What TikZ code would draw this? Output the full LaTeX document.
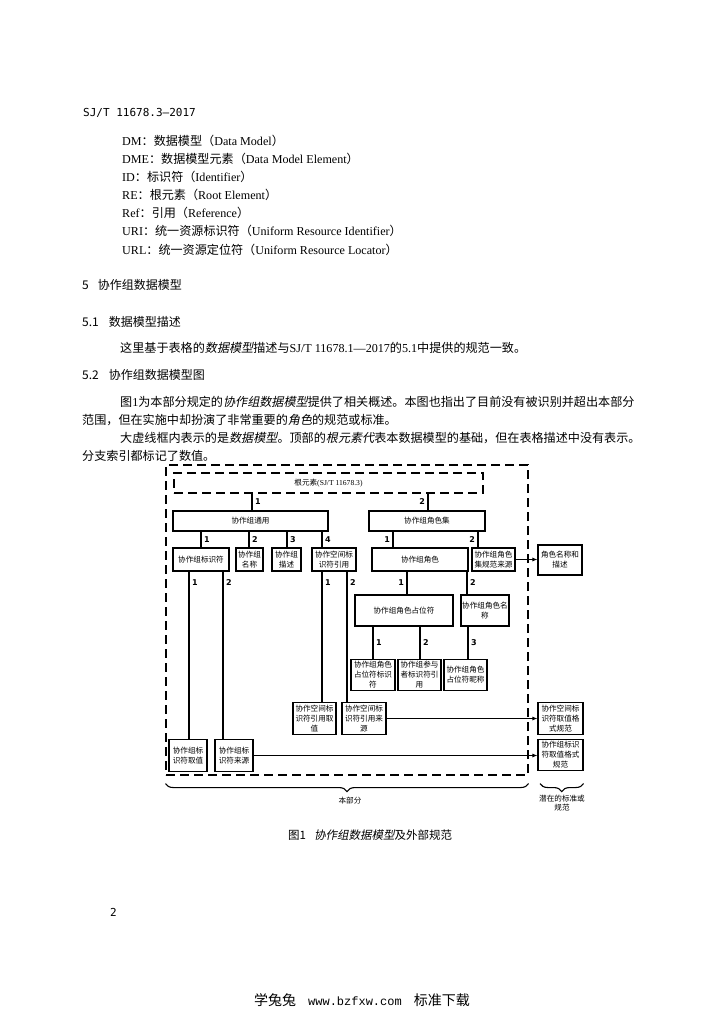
\documentclass[tikz,border=0pt]{standalone}
\usepackage{fontspec}
\setmainfont{Liberation Serif}
\newfontfamily\cjk{Noto Sans CJK SC}
\newfontfamily\cjkit{Noto Sans CJK SC}[FakeSlant=0.2]
\newfontfamily\numfont{DejaVu Sans}
\newfontfamily\sjmono{DejaVu Sans Mono}
\newfontfamily\webmono{Liberation Mono}
\newcommand\zh[1]{{\cjk #1}}
\newcommand\zhit[1]{{\cjkit #1}}
\usetikzlibrary{arrows.meta,decorations.pathreplacing}

\tikzset{
  txt/.style={anchor=base west, inner sep=0pt, font=\fontsize{12.1}{14}\selectfont},
  head/.style={anchor=base west, inner sep=0pt, font=\cjk\fontsize{12}{14}\selectfont},
  box/.style={draw, line width=1.1pt, inner sep=0pt, align=center, font=\cjk\fontsize{7.6}{10}\selectfont},
  row/.style={box, minimum height=23pt},
  cell/.style={box, minimum width=44pt, minimum height=31.5pt},
  frame/.style={draw, line width=1.1pt, dash pattern=on 9pt off 5pt, inner sep=0pt},
  link/.style={line width=1.1pt},
  numr/.style={right, inner sep=2.5pt, font=\numfont\bfseries\fontsize{8}{8}\selectfont},
  numl/.style={left, inner sep=2.5pt, font=\numfont\bfseries\fontsize{8}{8}\selectfont},
  lbl/.style={align=center, inner sep=0pt, font=\cjk\fontsize{7.6}{9.5}\selectfont},
  >={Latex[length=5pt,width=4pt]}
}

\begin{document}
\begin{tikzpicture}[x=1pt, y=-1pt]
    \useasboundingbox[fill=white] (0,0) rectangle (725,1024);

    % page text
    \node[anchor=base west, inner sep=0pt, font=\sjmono\fontsize{11}{13}\selectfont] (std) at (83,117) {SJ/T 11678.3—2017};
    \foreach \ab/\cn/\en [count=\i] in {DM/数据模型/Data Model, DME/数据模型元素/Data Model Element, ID/标识符/Identifier, RE/根元素/Root Element, Ref/引用/Reference, URI/统一资源标识符/Uniform Resource Identifier, URL/统一资源定位符/Uniform Resource Locator}
        \node[txt] (abbr\i) at (122,128+18*\i) {\ab\zh{：\cn（}\en\zh{）}};

    \node[head] (h5) at (82,289) {5\hspace{9pt}协作组数据模型};
    \node[head] (h51) at (82,326) {5.1\hspace{10pt}数据模型描述};
    \node[txt] (p0) at (120,352) {\zh{这里基于表格的}\zhit{数据模型}\zh{描述与}SJ/T 11678.1—2017\zh{的}5.1\zh{中提供的规范一致。}};
    \node[head] (h52) at (82,379) {5.2\hspace{10pt}协作组数据模型图};
    \node[txt] (p1) at (120,406) {\zh{图}1\zh{为本部分规定的}\zhit{协作组数据模型}\zh{提供了相关概述。本图也指出了目前没有被识别并超出本部分}};
    \node[txt] (p2) at (82,424) {\zh{范围，但在实施中却扮演了非常重要的}\zhit{角色}\zh{的规范或标准。}};
    \node[txt] (p3) at (120,442) {\zh{大虚线框内表示的是}\zhit{数据模型}\zh{。顶部的}\zhit{根元素代}\zh{表本数据模型的基础，但在表格描述中没有表示。}};
    \node[txt] (p4) at (82,460) {\zh{分支索引都标记了数值。}};

    % frames
    \node[frame, minimum width=362pt, minimum height=310pt] (part) at (347,620) {};
    \node[frame, minimum width=309pt, minimum height=20pt, font=\fontsize{7.6}{9}\selectfont] (root) at (328.5,483) {\zh{根元素}(SJ/T 11678.3)};

    % boxes
    \node[box, minimum width=155pt, minimum height=20pt] (gen) at (250.5,521) {协作组通用};
    \node[box, minimum width=116pt, minimum height=20pt] (rset) at (427,521) {协作组角色集};

    \node[row, minimum width=56pt] (gid) at (201,559.5) {协作组标识符};
    \node[row, minimum width=27pt] (gname) at (249.5,559.5) {协作组\\名称};
    \node[row, minimum width=29pt] (gdesc) at (286.5,559.5) {协作组\\描述};
    \node[row, minimum width=44pt] (sref) at (334,559.5) {协作空间标\\识符引用};
    \node[row, minimum width=96pt] (role) at (420,559.5) {协作组角色};
    \node[row, minimum width=43pt] (rsrc) at (493.5,559.5) {协作组角色\\集规范来源};
    \node[box, minimum width=44pt, minimum height=30pt] (rdesc) at (560,560) {角色名称和\\描述};

    \node[box, minimum width=98pt, minimum height=31pt] (ph) at (404,610.5) {协作组角色占位符};
    \node[box, minimum width=48pt, minimum height=31pt] (rname) at (485,610.5) {协作组角色名\\称};

    \node[cell] (phid) at (373,675) {协作组角色\\占位符标识\\符};
    \node[cell, minimum width=43pt] (pref) at (419.5,675) {协作组参与\\者标识符引\\用};
    \node[cell, minimum width=43pt] (nick) at (465.5,675) {协作组角色\\占位符昵称};

    \node[cell, minimum width=43pt] (sval) at (314.5,718.5) {协作空间标\\识符引用取\\值};
    \node[cell] (ssrc) at (364,718.5) {协作空间标\\识符引用来\\源};
    \node[cell, minimum width=45pt] (sfmt) at (560.5,718.5) {协作空间标\\识符取值格\\式规范};

    \node[cell, minimum width=38pt] (gval) at (188,755.5) {协作组标\\识符取值};
    \node[cell, minimum width=38pt] (gsrc) at (234,755.5) {协作组标\\识符来源};
    \node[cell, minimum width=45pt] (gfmt) at (560.5,755) {协作组标识\\符取值格式\\规范};

    % tree lines
    \draw[link] (root.south -| 252,0) -- node[numr]{1} (gen.north -| 252,0);
    \draw[link] (root.south -| 428,0) -- node[numl]{2} (rset.north -| 428,0);

    \draw[link] (gen.south -| 201,0) -- node[numr]{1} (gid.north -| 201,0);
    \draw[link] (gen.south -| 249,0) -- node[numr]{2} (gname.north -| 249,0);
    \draw[link] (gen.south -| 287,0) -- node[numr]{3} (gdesc.north -| 287,0);
    \draw[link] (gen.south -| 322,0) -- node[numr]{4} (sref.north -| 322,0);
    \draw[link] (rset.south -| 393,0) -- node[numl]{1} (role.north -| 393,0);
    \draw[link] (rset.south -| 478,0) -- node[numl]{2} (rsrc.north -| 478,0);

    \draw[link] (gid.south -| 189,0) -- node[numr, pos=0.065]{1} (gval.north -| 189,0);
    \draw[link] (gid.south -| 223,0) -- node[numr, pos=0.065]{2} (gsrc.north -| 223,0);
    \draw[link] (sref.south -| 322,0) -- node[numr, pos=0.085]{1} (sval.north -| 322,0);
    \draw[link] (sref.south -| 347,0) -- node[numr, pos=0.085]{2} (ssrc.north -| 347,0);
    \draw[link] (role.south -| 407,0) -- node[numl]{1} (ph.north -| 407,0);
    \draw[link] (role.south -| 467,0) -- node[numr]{2} (rname.north -| 467,0);

    \draw[link] (ph.south -| 373,0) -- node[numr]{1} (phid.north -| 373,0);
    \draw[link] (ph.south -| 420,0) -- node[numr]{2} (pref.north -| 420,0);
    \draw[link] (rname.south -| 468,0) -- node[numr]{3} (nick.north -| 468,0);

    % references out of this part
    \draw[link, ->] (rsrc.east) -- (rsrc.east -| rdesc.west);
    \draw[link, ->] (ssrc.east) -- (ssrc.east -| sfmt.west);
    \draw[link, ->] (gsrc.east) -- (gsrc.east -| gfmt.west);

    % braces
    \draw[link, decorate, decoration={brace, mirror, amplitude=8pt}] ([yshift=-8pt]part.south west) -- ([yshift=-8pt]part.south east);
    \draw[link, decorate, decoration={brace, mirror, amplitude=8pt}] ([yshift=-8pt]part.south -| 540,0) -- ([yshift=-8pt]part.south -| gfmt.east);
    \node[lbl] (lpart) at (350,801) {本部分};
    \node[lbl] (lext) at (562,803) {潜在的标准或\\规范};

    \node[anchor=base west, inner sep=0pt, font=\cjk\fontsize{11.5}{13}\selectfont] (cap) at (288,839) {图1\hspace{8pt}{\cjkit 协作组数据模型}及外部规范};

    \node[anchor=base west, inner sep=0pt, font=\sjmono\fontsize{11}{13}\selectfont] (pnum) at (110,916) {2};
    \node[inner sep=0pt, font=\cjk\fontsize{14}{16}\selectfont] (foot) at (362,1000) {学兔兔\hspace{12pt}{\webmono\fontsize{12}{14}\selectfont www.bzfxw.com}\hspace{12pt}标准下载};
\end{tikzpicture}
\end{document}
